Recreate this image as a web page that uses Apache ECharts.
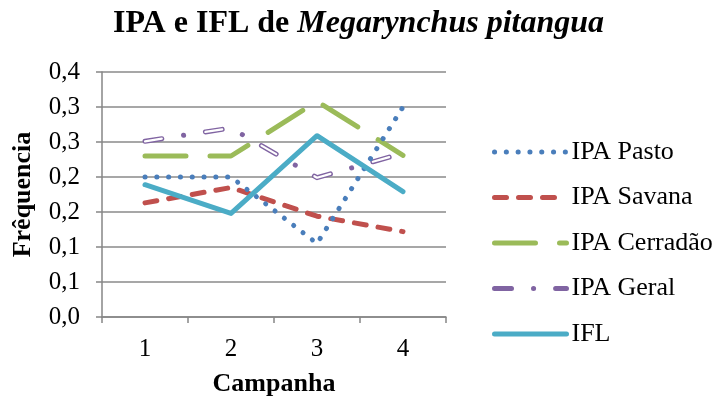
<!DOCTYPE html>
<html><head><meta charset="utf-8">
<script src="https://cdn.jsdelivr.net/npm/echarts@6/dist/echarts.min.js"></script>
<style>html,body{margin:0;padding:0;background:#fff}#c{width:717px;height:407px}</style>
</head><body><div id="c"></div>
<script>
const categories = ['1', '2', '3', '4'];
const yTickLabels = ['0,0', '0,1', '0,1', '0,2', '0,2', '0,3', '0,3', '0,4'];
const ipaPasto = [0.200, 0.200, 0.105, 0.300];
const ipaSavana = [0.163, 0.185, 0.144, 0.122];
const ipaCerradao = [0.230, 0.230, 0.308, 0.231];
const ipaGeral = [0.251, 0.270, 0.199, 0.234];
const ifl = [0.189, 0.148, 0.259, 0.179];

const FONT = '"Liberation Serif","Times New Roman",serif';
const chart = echarts.init(document.getElementById('c'), null, {renderer: 'canvas'});
function line(name, data, color, width, type, z) {
  return {name, type: 'line', data, symbol: 'none', z: z || 2, animation: false,
    lineStyle: {color, width, type, cap: 'round', join: 'round'}, itemStyle: {color}};
}
chart.setOption({
  animation: false,
  title: {
    text: '{a|IPA e IFL de }{b|Megarynchus pitangua}', left: 'center', top: 3,
    textStyle: {rich: {
      a: {fontFamily: FONT, fontSize: 32, fontWeight: 'bold', color: '#000'},
      b: {fontFamily: FONT, fontSize: 32, fontWeight: 'bold', fontStyle: 'italic', color: '#000'}
    }}
  },
  grid: {left: 102, right: 271, top: 72, bottom: 90, containLabel: false},
  legend: {
    orient: 'vertical', left: 487, top: 134, itemWidth: 72, itemHeight: 14, itemGap: 19.5,
    itemStyle: {opacity: 0},
    data: [
      {name: 'IPA Pasto', lineStyle: {width: 5}},
      {name: 'IPA Savana', lineStyle: {width: 5}},
      {name: 'IPA Cerradão', lineStyle: {width: 5}},
      {name: 'IPA Geral', lineStyle: {width: 5}},
      {name: 'IFL', lineStyle: {width: 5}}
    ],
    textStyle: {fontFamily: FONT, fontSize: 26, color: '#000'}
  },
  xAxis: {
    type: 'category', data: categories, boundaryGap: true,
    name: 'Campanha', nameLocation: 'middle', nameGap: 54,
    nameTextStyle: {fontFamily: FONT, fontSize: 26, fontWeight: 'bold', color: '#000'},
    axisLine: {lineStyle: {color: '#868686', width: 1.5}},
    axisTick: {show: true, length: 6, lineStyle: {color: '#868686', width: 1.5}},
    axisLabel: {fontFamily: FONT, fontSize: 25, color: '#000', margin: 20},
    splitLine: {show: false}
  },
  yAxis: {
    type: 'value', min: 0, max: 0.35, interval: 0.05,
    name: 'Frêquencia', nameLocation: 'middle', nameGap: 66,
    nameTextStyle: {fontFamily: FONT, fontSize: 26, fontWeight: 'bold', color: '#000'},
    axisLine: {show: true, lineStyle: {color: '#868686', width: 1.5}},
    axisTick: {show: true, length: 6, lineStyle: {color: '#868686', width: 1.5}},
    axisLabel: {fontFamily: FONT, fontSize: 25, color: '#000', margin: 22,
      formatter: v => yTickLabels[Math.round(v / 0.05)]},
    splitLine: {lineStyle: {color: '#8a8a8a', width: 1.5}}
  },
  series: [
    line('IPA Pasto', ipaPasto, '#4A7EBB', 5, [0.1, 11.7], 6),
    line('IPA Savana', ipaSavana, '#C0504D', 5, [12, 12], 3),
    line('IPA Cerradão', ipaCerradao, '#9BBB59', 5, [41, 24], 2),
    line('IPA Geral', ipaGeral, '#8064A2', 5, [17, 22, 0.1, 22], 4),
    Object.assign(line('IPA Geral overlay', ipaGeral, '#FFFFFF', 2.2, [17, 44.1], 5), {legendHoverLink: false, silent: true}),
    line('IFL', ifl, '#4BACC6', 5, 'solid', 7)
  ]
});
</script></body></html>
